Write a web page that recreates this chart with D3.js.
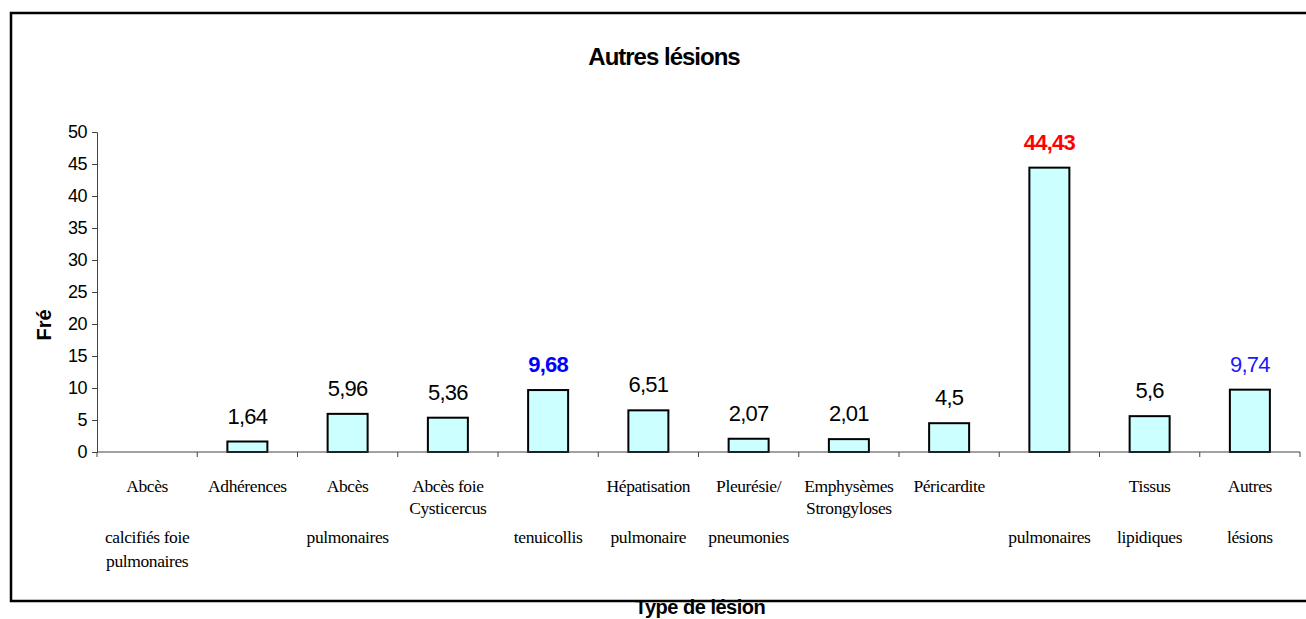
<!DOCTYPE html>
<html>
<head>
<meta charset="utf-8">
<script src="https://cdn.jsdelivr.net/npm/d3@7"></script>
<style>
  body { margin: 0; background: #fff; }
  svg { display: block; }
</style>
</head>
<body>
<script>
// chart data
var categories = ["c0", "c1", "c2", "c3", "c4", "c5", "c6", "c7", "c8", "c9", "c10", "c11"];
var values = [0, 1.64, 5.96, 5.36, 9.68, 6.51, 2.07, 2.01, 4.5, 44.43, 5.6, 9.74];
var valueLabels = ["", "1,64", "5,96", "5,36", "9,68", "6,51", "2,07", "2,01", "4,5", "44,43", "5,6", "9,74"];
// category label lines, one entry per text row (row 0..3)
var catLines = [
	["Abcès", "", "calcifiés foie", "pulmonaires"],
	["Adhérences"],
	["Abcès", "", "pulmonaires"],
	["Abcès foie", "Cysticercus"],
	["", "", "tenuicollis"],
	["Hépatisation", "", "pulmonaire"],
	["Pleurésie/", "", "pneumonies"],
	["Emphysèmes", "Strongyloses"],
	["Péricardite"],
	["", "", "pulmonaires"],
	["Tissus", "", "lipidiques"],
	["Autres", "", "lésions"]
];
var yTicks = [0, 5, 10, 15, 20, 25, 30, 35, 40, 45, 50];

var width = 1306,
	height = 619;
var margin = {top: 132, right: 6, bottom: 167, left: 97};

var svg = d3.select("body").append("svg")
	.attr("width", width)
	.attr("height", height);

// frame (top, left, bottom, open on the right)
svg.append("path")
	.attr("d", "M1306,13 H11 V601 H1306")
	.attr("fill", "none")
	.attr("stroke", "#000")
	.attr("stroke-width", 2.5);

var xScale = d3.scaleBand()
	.domain(categories)
	.range([margin.left, width - margin.right])
	.paddingInner(0)
	.paddingOuter(0);

var yScale = d3.scaleLinear()
	.domain([0, 50])
	.range([height - margin.bottom, margin.top]);

var rows = values.map(function(v, i) {
	return {cat: categories[i], value: v, label: valueLabels[i], i: i};
});

// y axis
var yAxis = d3.axisLeft(yScale)
	.tickValues(yTicks)
	.tickSize(5)
	.tickPadding(5);

var gy = svg.append("g")
	.attr("transform", "translate(" + margin.left + ",0)")
	.call(yAxis);
gy.select(".domain").attr("stroke", "#444");
gy.selectAll(".tick line").attr("stroke", "#444");
gy.selectAll("text")
	.attr("font-family", "Arial, 'Liberation Sans', sans-serif")
	.attr("font-size", 18)
	.attr("letter-spacing", -0.5)
	.attr("fill", "#000");

// bars
var bw = 40;
svg.selectAll("rect.bar")
	.data(rows.filter(function(d) { return d.value > 0; }))
	.enter()
	.append("rect")
	.attr("class", "bar")
	.attr("x", function(d) { return xScale(d.cat) + xScale.bandwidth() / 2 - bw / 2; })
	.attr("y", function(d) { return yScale(d.value); })
	.attr("width", bw)
	.attr("height", function(d) { return yScale(0) - yScale(d.value); })
	.attr("fill", "#ccffff")
	.attr("stroke", "#000")
	.attr("stroke-width", 2);

// x axis (ticks at category boundaries)
var x0 = xScale.range()[0], x1 = xScale.range()[1];
var gx = svg.append("g");
gx.append("line")
	.attr("x1", x0).attr("x2", x1)
	.attr("y1", yScale(0)).attr("y2", yScale(0))
	.attr("stroke", "#444");
gx.selectAll("line.tk")
	.data(categories.concat(["end"]))
	.enter()
	.append("line")
	.attr("class", "tk")
	.attr("x1", function(d, i) { return x0 + i * xScale.bandwidth(); })
	.attr("x2", function(d, i) { return x0 + i * xScale.bandwidth(); })
	.attr("y1", yScale(0))
	.attr("y2", yScale(0) + 5)
	.attr("stroke", "#444");

// value labels
var labelColor = function(i) {
	if (i == 9) return "#ff0000";
	if (i == 4) return "#0000ff";
	if (i == 11) return "#1a1aff";
	return "#000";
};
svg.selectAll("text.val")
	.data(rows)
	.enter()
	.append("text")
	.attr("class", "val")
	.attr("x", function(d) { return xScale(d.cat) + xScale.bandwidth() / 2; })
	.attr("y", function(d) { return yScale(d.value) - 18; })
	.attr("text-anchor", "middle")
	.attr("font-family", "Arial, 'Liberation Sans', sans-serif")
	.attr("font-size", 22)
	.attr("letter-spacing", -0.8)
	.attr("font-weight", function(d) { return (d.i == 4 || d.i == 9) ? "bold" : "normal"; })
	.attr("fill", function(d) { return labelColor(d.i); })
	.text(function(d) { return d.label; });

// category labels
var rowY = [492, 514, 543, 567];
catLines.forEach(function(lines, i) {
	lines.forEach(function(t, r) {
		if (!t) return;
		svg.append("text")
			.attr("x", xScale(categories[i]) + xScale.bandwidth() / 2)
			.attr("y", rowY[r])
			.attr("text-anchor", "middle")
			.attr("font-family", "'Liberation Serif', 'Times New Roman', serif")
			.attr("font-size", 17.5)
			.attr("letter-spacing", -0.4)
			.attr("fill", "#000")
			.text(t);
	});
});

// titles
svg.append("text")
	.attr("x", 664)
	.attr("y", 65)
	.attr("text-anchor", "middle")
	.attr("font-family", "Arial, 'Liberation Sans', sans-serif")
	.attr("font-size", 24)
	.attr("font-weight", "bold")
	.attr("letter-spacing", -1)
	.text("Autres lésions");

svg.append("text")
	.attr("transform", "translate(51,325) rotate(-90)")
	.attr("text-anchor", "middle")
	.attr("font-family", "Arial, 'Liberation Sans', sans-serif")
	.attr("font-size", 20)
	.attr("font-weight", "bold")
	.text("Fré");

svg.append("text")
	.attr("x", 700)
	.attr("y", 614)
	.attr("text-anchor", "middle")
	.attr("font-family", "Arial, 'Liberation Sans', sans-serif")
	.attr("font-size", 20)
	.attr("font-weight", "bold")
	.attr("letter-spacing", -0.5)
	.text("Type de lésion");
</script>
</body>
</html>
